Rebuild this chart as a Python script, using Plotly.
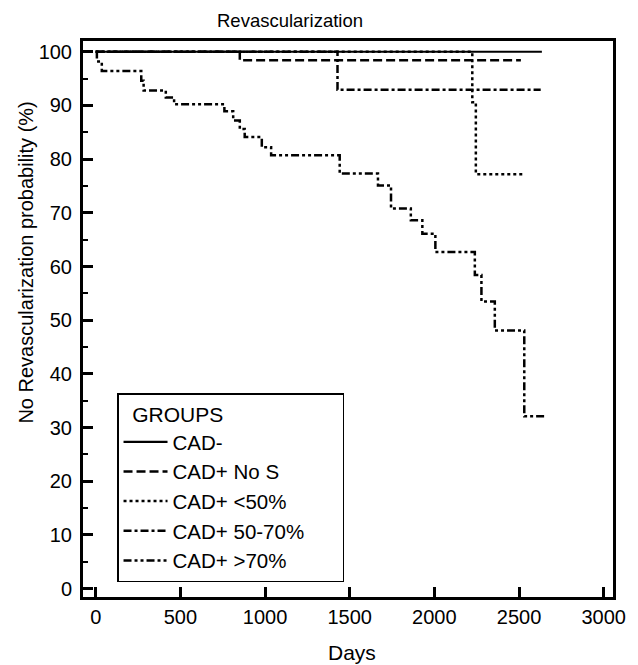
import plotly.graph_objects as go

# ---- data (days, no-revascularization probability %) ----
groups = ["CAD-", "CAD+ No S", "CAD+ <50%", "CAD+ 50-70%", "CAD+ >70%"]

cad_neg_t = [0, 2635]
cad_neg_s = [100, 100]

nos_t = [0, 851, 2511]
nos_s = [100, 98.4, 98.4]

lt50_t = [0, 2224, 2245, 2535]
lt50_s = [100, 90.6, 77.2, 77.2]

mid_t = [0, 1428, 2628]
mid_s = [100, 92.9, 92.9]

gt70_t = [0, 7, 36, 269, 283, 414, 463, 760, 812, 851, 880, 981, 1036,
          1441, 1667, 1744, 1861, 1929, 2006, 2239, 2278, 2357, 2531, 2666]
gt70_s = [100, 98.2, 96.4, 94.6, 92.8, 91.5, 90.2, 88.9, 87.2, 85.6, 84.1, 82.2, 80.7,
          77.3, 75.1, 70.8, 68.6, 66.1, 62.7, 58.4, 53.5, 48.1, 32.1, 32.1]

x_ticks = [0, 500, 1000, 1500, 2000, 2500, 3000]
y_ticks = [0, 10, 20, 30, 40, 50, 60, 70, 80, 90, 100]

FONT = "Arial, Liberation Sans, sans-serif"
NB = "\u00a0"

series = [
    (nos_t, nos_s, groups[1], "9px,4px", 2.5, 2),
    (lt50_t, lt50_s, groups[2], "3px,3px", 2.5, 3),
    (mid_t, mid_s, groups[3], "8px,3px,3px,3px", 2.5, 4),
    (gt70_t, gt70_s, groups[4], "8px,3px,3px,3px,3px,3px", 2.5, 5),
    (cad_neg_t, cad_neg_s, groups[0], "solid", 2.2, 1),
]

fig = go.Figure()
for t, s, name, dash, w, rank in series:
    fig.add_trace(go.Scatter(
        x=t, y=s, mode="lines", name=name, line_shape="hv",
        line=dict(color="black", width=w, dash=dash),
        legendrank=rank,
    ))

axis_common = dict(
    showgrid=False, zeroline=False, showline=True, linecolor="black",
    linewidth=3, mirror=True, ticks="inside", tickwidth=2.5, ticklen=10,
    tickcolor="black", tickfont=dict(family=FONT, size=20, color="black"),
)

fig.update_xaxes(range=[-75, 3055], tickvals=x_ticks, **axis_common)
fig.update_yaxes(range=[-1.55, 102.0], tickvals=y_ticks, ticklabelstandoff=4,
                 minor=dict(ticks="inside", dtick=5, ticklen=5, tickwidth=2, tickcolor="black"),
                 **axis_common)

fig.update_layout(
    width=638, height=665,
    margin=dict(l=82.5, r=18, t=40.5, b=68),
    plot_bgcolor="white", paper_bgcolor="white",
    font=dict(family=FONT, color="black"),
    title=dict(text="Revascularization", x=290 / 638, xanchor="center",
               y=1 - 21 / 665, yanchor="middle", font=dict(size=18.5, family=FONT)),
    legend=dict(
        title=dict(text=NB * 2 + "GROUPS" + NB * 20, font=dict(size=21, family=FONT)),
        font=dict(size=20.5, family=FONT),
        x=0.0642, y=0.3666, xanchor="left", yanchor="top",
        bordercolor="black", borderwidth=1.5, bgcolor="white",
        tracegroupgap=0, itemwidth=44,
    ),
    annotations=[
        dict(text="No Revascularization probability (%)", xref="paper", yref="paper",
             x=(25 - 82.5) / 537.5, y=(597 - 262) / 556.5, textangle=-90,
             showarrow=False, xanchor="center", yanchor="middle",
             font=dict(size=20, family=FONT)),
        dict(text="Days", xref="paper", yref="paper",
             x=(355 - 82.5) / 537.5, y=(597 - 653) / 556.5,
             showarrow=False, xanchor="center", yanchor="middle",
             font=dict(size=21, family=FONT)),
    ],
)

fig.write_html("out.html", config={"displayModeBar": False},
               post_script="document.body.style.margin='0';")
